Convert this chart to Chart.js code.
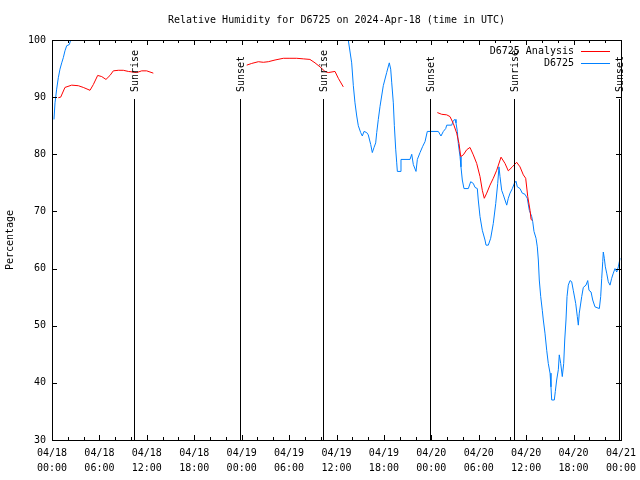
<!doctype html>
<html lang="en">
<head>
<meta charset="utf-8">
<title>Relative Humidity for D6725</title>
<style>
  * { margin: 0; padding: 0; }
  body { background: #fff; }
  .chartBox { width: 640px; height: 480px; }
</style>
</head>
<body>
<div class="chartBox">
  <canvas id="myChart"></canvas>
</div>

<script src="https://cdn.jsdelivr.net/npm/chart.js"></script>
<script>
// hours since 04/18 00:00 UTC, null breaks the line
const analysisHours = [0.8, 1.1, 1.64, 2.49, 3.33, 3.96, 4.81, 5.23, 5.78, 6.29, 6.83, 7.34, 7.76, 8.39, 9.02, 9.66, 10.72, 11.35, 11.98, 12.82,
  18,
  24.64, 25.27, 26.11, 26.74, 27.37, 28.22, 29.27, 30.11, 30.96, 31.8, 32.64, 33.28, 33.91, 34.54, 34.96, 35.81, 36.23, 36.86,
  42,
  48.76, 49.31, 49.95, 50.36, 50.78, 51.21, 51.5, 51.72, 52.05, 52.48, 52.89, 53.31, 53.74, 54.16, 54.45, 54.7, 55.01, 55.42,
  55.84, 56.27, 56.82, 57.32, 57.74, 58.25, 58.8, 59.22, 59.64, 59.94, 60.2, 60.49, 60.62, 60.78]
const analysisRH = [89.9, 90, 91.7, 92.1, 92, 91.7, 91.2, 92.2, 93.8, 93.6, 93.1, 93.8, 94.6, 94.7, 94.7, 94.5, 94.3, 94.6, 94.6, 94.2,
  null,
  95.6, 95.9, 96.2, 96.1, 96.2, 96.5, 96.8, 96.8, 96.8, 96.7, 96.6, 96, 95.3, 94.5, 94.3, 94.5, 93.3, 91.8,
  null,
  87.3, 87, 86.9, 86.6, 85.4, 83.7, 81.9, 79.6, 79.9, 80.8, 81.2, 79.9, 78.4, 76.1, 73.7, 72.3, 73.2, 74.6,
  75.8, 77.2, 79.5, 78.4, 77.1, 77.8, 78.6, 77.8, 76.4, 75.8, 72.6, 70.2, 68.6, 68.4]

const stationHours = [0.25, 0.38, 0.59, 0.8, 1.01, 1.23, 1.43, 1.64, 1.86, 2.19, 2.37, 2.6,
  20,
  37.3, 37.49, 37.92, 38.13, 38.34, 38.56, 38.76, 39.06, 39.27, 39.48, 39.82, 40.02, 40.33, 40.53, 40.75, 40.96, 41.09, 41.29,
  41.51, 41.92, 42.35, 42.68, 42.86, 42.99, 43.19, 43.32, 43.49, 43.62, 43.7, 44.04, 44.16, 45.3, 45.52, 45.72, 46.06, 46.23,
  46.57, 46.91, 47.2, 47.49, 48.88, 49.22, 49.52, 49.82, 49.95, 50.58, 50.78, 51.0, 51.12, 51.29, 51.41, 51.63, 51.75, 51.92,
  52.13, 52.68, 52.98, 53.31, 53.53, 53.82, 53.94, 54.16, 54.45, 54.79, 54.92, 55.21, 55.51, 55.84, 56.15, 56.4, 56.56, 56.69,
  56.9, 57.11, 57.32, 57.54, 57.74, 57.96, 58.25, 58.5, 58.71, 58.88, 59.22, 59.51, 59.85, 60.14, 60.4, 60.7, 60.83, 60.99,
  61.25, 61.41, 61.54, 61.66, 61.84, 62.04, 62.17, 62.38, 62.6, 62.8, 63.02, 63.14, 63.23, 63.56, 63.69, 63.86, 64.07, 64.19,
  64.37, 64.57, 64.75, 64.88, 65.04, 65.17, 65.33, 65.55, 65.76, 65.96, 66.27, 66.47, 66.6, 66.72, 67.03, 67.23, 67.57, 67.79,
  67.95, 68.21, 68.42, 68.71, 69.26, 69.43, 69.56, 69.69, 69.76, 69.89, 70.02, 70.19, 70.39, 70.61, 70.82, 71.03, 71.24, 71.46,
  71.66, 71.88]
const stationRH = [86.1, 89, 91.4, 93.4, 94.9, 96, 96.9, 98.1, 99, 99.2, 100, 101,
  null,
  101, 100, 96, 92, 89, 86.7, 85, 83.8, 83.2, 84, 83.8, 83.4, 81.7, 80.3, 81.2, 82, 83.8, 86.1,
  88.4, 92, 94.3, 96, 94.9, 92.5, 89, 85, 80.9, 78.5, 77, 77, 79.1, 79.1, 80, 78.2, 77, 79.1,
  80.3, 81.4, 82.2, 84, 84, 83.2, 84, 84.5, 85.1, 85.1, 85.9, 86.1, 85.5, 84, 81.9, 79.6, 77.8, 75.5,
  74, 74, 75.2, 74.9, 74.2, 74, 72, 69.1, 66.7, 65, 64.1, 64.1, 65.3, 67.9, 71.4, 74.9, 77.8, 76.1,
  73.7, 72.9, 72, 71.1, 72.3, 73.2, 74, 74.9, 75.3, 74.3, 74, 73.2, 73, 72.3, 70.2, 69.1, 68.2, 66.5,
  65.3, 63.8, 61.5, 58, 55.1, 52.7, 51, 48.7, 45.7, 43.4, 41.7, 39.3, 37, 37, 38.5, 40.5, 42.3, 44.9,
  43.4, 41.1, 43.4, 47.5, 51, 55.1, 57.1, 57.9, 57.7, 56.2, 53.9, 51.6, 50.1, 52.2, 55.1, 56.7, 57.1, 57.9,
  56.2, 55.9, 54.5, 53.3, 53, 55.1, 58.3, 61.2, 62.9, 61.8, 60.3, 59.2, 57.7, 57.1, 58.3, 59.2, 60, 59.4,
  60.3, 61.8]

const sunHours = [10.38, 23.8, 34.3, 47.85, 58.4, 71.8]
const sunLabels = ['Sunrise', 'Sunset', 'Sunrise', 'Sunset', 'Sunrise', 'Sunset']

const dayLabels = ['04/18', '04/19', '04/20', '04/21']
const timeLabels = ['00:00', '06:00', '12:00', '18:00']
const yTicks = [30, 40, 50, 60, 70, 80, 90, 100]

const titleText = 'Relative Humidity for D6725 on 2024-Apr-18 (time in UTC)'
const seriesNames = ['D6725 Analysis', 'D6725']
const seriesColors = ['rgb(255, 0, 0)', 'rgb(0, 128, 255)']

const FONT = 'DejaVu Sans Mono'

function toPoints(hours, values) {
  return hours.map((h, i) => ({ x: h, y: values[i] }))
}

// title, frame, inward tics, sun lines and the key, drawn gnuplot style
const gnuplotBits = {
  id: 'gnuplotBits',
  afterDatasetsDraw(chart) {
    const ctx = chart.ctx
    const a = chart.chartArea
    const xs = chart.scales.x
    const ys = chart.scales.y
    ctx.save()
    ctx.strokeStyle = '#000'
    ctx.fillStyle = '#000'
    ctx.lineWidth = 1
    ctx.font = '10px ' + FONT

    // title centred over the plot
    ctx.textAlign = 'center'
    ctx.textBaseline = 'middle'
    ctx.fillText(titleText, (a.left + a.right) / 2, 20)

    // sun lines
    sunHours.forEach((h, i) => {
      const px = Math.round(xs.getPixelForValue(h)) + 0.5
      ctx.beginPath()
      ctx.moveTo(px, 99)
      ctx.lineTo(px, a.bottom)
      ctx.stroke()
      ctx.save()
      ctx.translate(px + 1, 92)
      ctx.rotate(-Math.PI / 2)
      ctx.textAlign = 'left'
      ctx.textBaseline = 'middle'
      ctx.fillText(sunLabels[i], 0, 0)
      ctx.restore()
    })

    // frame
    ctx.strokeRect(Math.round(a.left) + 0.5, Math.round(a.top) + 0.5,
      Math.round(a.right - a.left), Math.round(a.bottom - a.top))

    // x tics: major every 6h, minor every 2h
    for (let h = 0; h <= 72; h += 2) {
      const px = Math.round(xs.getPixelForValue(h)) + 0.5
      const len = h % 6 === 0 ? 5 : 3
      ctx.beginPath()
      ctx.moveTo(px, a.bottom)
      ctx.lineTo(px, a.bottom - len)
      ctx.moveTo(px, a.top)
      ctx.lineTo(px, a.top + len)
      ctx.stroke()
    }
    // y tics
    yTicks.forEach(v => {
      const py = Math.round(ys.getPixelForValue(v)) + 0.5
      ctx.beginPath()
      ctx.moveTo(a.left, py)
      ctx.lineTo(a.left + 5, py)
      ctx.moveTo(a.right, py)
      ctx.lineTo(a.right - 5, py)
      ctx.stroke()
    })

    // key
    ctx.textAlign = 'right'
    ctx.textBaseline = 'middle'
    seriesNames.forEach((name, i) => {
      const y = 51 + i * 12
      ctx.fillStyle = '#000'
      ctx.fillText(name, 574, y)
      ctx.strokeStyle = seriesColors[i]
      ctx.beginPath()
      ctx.moveTo(581, y + 0.5)
      ctx.lineTo(610, y + 0.5)
      ctx.stroke()
    })
    ctx.restore()
  }
}

Chart.defaults.color = '#000'
Chart.defaults.font.family = FONT
Chart.defaults.font.size = 10

const data = {
  datasets: [
    {
      label: seriesNames[0],
      data: toPoints(analysisHours, analysisRH),
      borderColor: seriesColors[0],
      backgroundColor: seriesColors[0]
    },
    {
      label: seriesNames[1],
      data: toPoints(stationHours, stationRH),
      borderColor: seriesColors[1],
      backgroundColor: seriesColors[1]
    }
  ]
}

const config = {
  type: 'line',
  data: data,
  options: {
    responsive: true,
    maintainAspectRatio: false,
    animation: false,
    spanGaps: false,
    layout: { padding: { left: 0, right: 19, top: 40, bottom: 0 } },
    elements: {
      point: { radius: 0 },
      line: { borderWidth: 1, tension: 0 }
    },
    plugins: {
      legend: { display: false },
      tooltip: { enabled: false },
      title: { display: false }
    },
    scales: {
      x: {
        type: 'linear',
        min: 0,
        max: 72,
        grid: { display: false, drawTicks: false },
        border: { display: false },
        ticks: {
          stepSize: 6,
          autoSkip: false,
          maxRotation: 0,
          padding: 6,
          font: { size: 10, lineHeight: 1.5 },
          callback: function (value) {
            const day = Math.floor(value / 24)
            const t = Math.floor((value % 24) / 6)
            return [dayLabels[day], timeLabels[t]]
          }
        },
        afterFit: function (scale) {
          scale.height = 40
          scale.paddingLeft = 0
          scale.paddingRight = 0
        }
      },
      y: {
        min: 30,
        max: 100,
        grid: { display: false, drawTicks: false },
        border: { display: false },
        ticks: {
          stepSize: 10,
          padding: 6,
          callback: function (value) { return yTicks.includes(value) ? String(value) : '' }
        },
        title: {
          display: true,
          text: 'Percentage',
          font: { size: 10 },
          padding: { top: 4, bottom: 0 }
        },
        afterFit: function (scale) {
          scale.width = 52
          scale.paddingTop = 0
          scale.paddingBottom = 0
        }
      }
    }
  },
  plugins: [gnuplotBits]
}

const myChart = new Chart(document.getElementById('myChart'), config)
</script>
</body>
</html>
